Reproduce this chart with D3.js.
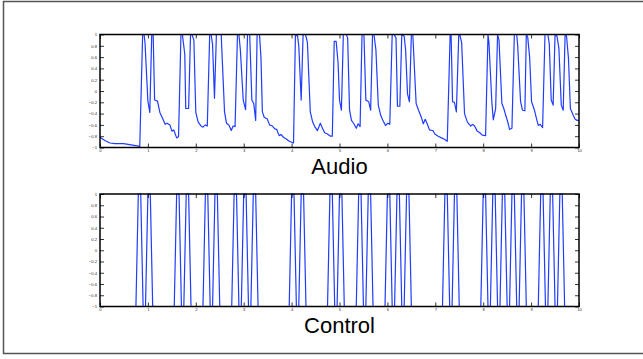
<!DOCTYPE html>
<html>
<head>
<meta charset="utf-8">
<script src="https://cdn.jsdelivr.net/npm/d3@7"></script>
<style>
  body { margin: 0; background: #fff; }
  svg { display: block; font-family: "Liberation Sans", Arial, sans-serif; }
</style>
</head>
<body>
<svg id="chart" width="643" height="359"></svg>
<script>
// audio trace, [time, value]
const audioPoints = [
  [0,-0.82],[0.10,-0.875],[0.21,-0.92],[0.31,-0.93],[0.49,-0.93],[0.62,-0.95],[0.83,-0.98],
  [0.89,1],[0.92,1],[0.94,0.85],[1.0,-0.18],[1.04,-0.38],
  [1.08,1],[1.11,1],[1.14,-0.16],[1.2,-0.18],[1.25,-0.38],[1.31,-0.49],[1.36,-0.59],[1.40,-0.57],
  [1.46,-0.60],[1.5,-0.71],[1.54,-0.69],[1.6,-0.83],[1.64,-0.81],
  [1.69,1],[1.72,1],[1.77,0.65],[1.79,-0.31],[1.85,-0.31],
  [1.89,1],[1.92,1],[1.96,0.9],[2.0,-0.38],[2.05,-0.55],[2.11,-0.62],[2.15,-0.64],[2.2,-0.6],[2.24,-0.62],
  [2.29,1],[2.32,1],[2.35,0.82],[2.39,-0.13],
  [2.43,1],[2.53,1],[2.6,-0.37],[2.64,-0.57],[2.69,-0.6],[2.74,-0.70],[2.78,-0.62],[2.82,-0.63],
  [2.87,1],[2.9,1],[2.93,0.73],[2.99,-0.16],[3.04,-0.33],
  [3.08,1],[3.125,1],[3.17,-0.16],[3.21,-0.22],[3.25,-0.52],
  [3.28,1],[3.33,1],[3.36,0.6],[3.39,-0.37],[3.43,-0.47],[3.49,-0.49],[3.54,-0.6],[3.60,-0.62],
  [3.65,-0.67],[3.69,-0.68],[3.74,-0.79],[3.78,-0.77],[3.83,-0.82],[3.89,-0.85],[3.95,-0.89],[4.04,-0.92],
  [4.08,1],[4.125,0.97],[4.15,0.8],[4.2,-0.16],
  [4.24,1],[4.29,1],[4.33,0.86],[4.39,-0.37],[4.44,-0.55],[4.49,-0.64],[4.54,-0.70],[4.6,-0.57],
  [4.64,-0.65],[4.69,-0.74],[4.75,-0.76],[4.81,-0.8],[4.85,-0.8],
  [4.89,0.88],[4.93,0.88],[4.97,0.5],[5.0,-0.16],[5.04,-0.34],
  [5.08,1],[5.14,1],[5.17,0.94],[5.21,-0.34],[5.25,-0.52],[5.30,-0.58],[5.35,-0.66],[5.39,-0.58],[5.43,-0.63],
  [5.47,1],[5.51,1],[5.55,-0.16],[5.61,-0.19],[5.65,-0.34],
  [5.69,1],[5.72,1],[5.76,0.73],[5.81,-0.25],[5.86,-0.43],[5.90,-0.51],[5.96,-0.61],[6.01,-0.57],[6.05,-0.59],
  [6.1,1],[6.14,1],[6.18,0.94],[6.21,-0.27],[6.26,-0.27],
  [6.3,1],[6.35,0.97],[6.38,0.73],[6.42,-0.05],[6.46,-0.19],
  [6.5,1],[6.53,1],[6.6,-0.22],[6.65,-0.34],[6.71,-0.47],[6.75,-0.58],[6.79,-0.5],[6.83,-0.58],
  [6.88,-0.69],[6.95,-0.70],[6.99,-0.76],[7.06,-0.8],[7.13,-0.83],[7.18,-0.85],[7.25,-0.89],
  [7.31,1],[7.33,1],[7.36,-0.19],[7.40,-0.2],[7.44,-0.37],
  [7.49,1],[7.51,1],[7.55,0.86],[7.61,-0.40],[7.67,-0.55],[7.74,-0.62],[7.78,-0.59],[7.82,-0.62],
  [7.875,-0.71],[7.93,-0.74],[7.98,-0.78],[8.05,-0.79],
  [8.1,1],[8.12,0.86],[8.18,-0.19],[8.21,-0.51],[8.26,-0.31],
  [8.3,1],[8.33,0.9],[8.39,-0.22],[8.43,-0.31],[8.47,-0.43],[8.51,-0.54],[8.55,-0.68],[8.60,-0.66],
  [8.65,1],[8.70,1],[8.72,0.8],[8.78,-0.19],[8.82,-0.34],[8.87,-0.35],
  [8.9,1],[8.93,0.95],[8.97,0.59],[9.01,-0.19],[9.07,-0.34],[9.11,-0.48],[9.15,-0.61],[9.19,-0.59],[9.24,-0.65],
  [9.29,1],[9.35,1],[9.38,0.83],[9.42,-0.16],[9.46,-0.25],
  [9.5,1],[9.54,0.97],[9.58,0.76],[9.63,-0.25],[9.67,-0.34],
  [9.71,1],[9.74,0.97],[9.78,0.58],[9.82,-0.31],[9.88,-0.43],[9.92,-0.5],[9.96,-0.52],[10,-0.52]
];

// control signal: times where each pulse reaches +1 (one sample high, 0.05 s steps)
const controlPulseStarts = [
  0.8, 1.0, 1.6, 1.8, 2.2, 2.4, 2.8, 3.0, 3.2, 4.0, 4.2, 4.8, 5.0, 5.4,
  5.6, 6.0, 6.2, 6.4, 7.2, 7.4, 8.0, 8.2, 8.4, 8.6, 8.8, 9.2, 9.4, 9.6
];
const controlStep = 0.05;

const xTicks = [0, 1, 2, 3, 4, 5, 6, 7, 8, 9, 10];
const yTicks = [-1, -0.8, -0.6, -0.4, -0.2, 0, 0.2, 0.4, 0.6, 0.8, 1];
const titles = ["Audio", "Control"];

// build control line from pulse starts
const controlPoints = [[0, -1]];
controlPulseStarts.forEach(s => {
  controlPoints.push([s - controlStep, -1], [s, 1], [s + controlStep, 1], [s + 2 * controlStep, -1]);
});
controlPoints.push([10, -1]);

const svg = d3.select("#chart");
const blue = "#1f3cff";

// outer figure border (right side runs off the picture)
svg.append("rect")
  .attr("x", 3.5).attr("y", 1.5)
  .attr("width", 642).attr("height", 352)
  .attr("fill", "none").attr("stroke", "#555").attr("stroke-width", 1.5);

const x = d3.scaleLinear().domain([0, 10]).range([100, 579]);

function drawPanel(points, top, bottom, title) {
  const y = d3.scaleLinear().domain([-1, 1]).range([bottom, top]);
  const g = svg.append("g");

  g.append("path")
    .datum(points)
    .attr("fill", "none")
    .attr("stroke", blue)
    .attr("stroke-width", 1.2)
    .attr("stroke-linejoin", "round")
    .attr("d", d3.line().x(d => x(d[0])).y(d => y(d[1])));

  const fmt = d => d3.format("")(+d.toFixed(1));

  g.append("g").attr("transform", `translate(${x(0)},0)`)
    .call(d3.axisLeft(y).tickValues(yTicks).tickSize(-4).tickSizeOuter(0).tickPadding(3).tickFormat(fmt));
  g.append("g").attr("transform", `translate(${x(10)},0)`)
    .call(d3.axisRight(y).tickValues(yTicks).tickSize(-4).tickSizeOuter(0).tickFormat(""));
  g.append("g").attr("transform", `translate(0,${bottom})`)
    .call(d3.axisBottom(x).tickValues(xTicks).tickSize(-4).tickSizeOuter(0).tickPadding(1.5).tickFormat(d3.format("d")));
  g.append("g").attr("transform", `translate(0,${top})`)
    .call(d3.axisTop(x).tickValues(xTicks).tickSize(-4).tickSizeOuter(0).tickFormat(""));

  g.selectAll(".domain").remove();
  g.selectAll(".tick line").attr("stroke", "#000").attr("stroke-width", 0.8);
  g.selectAll(".tick text").attr("font-size", 4.2).attr("fill", "#333");

  g.append("rect")
    .attr("x", x(0)).attr("y", top)
    .attr("width", x(10) - x(0)).attr("height", bottom - top)
    .attr("fill", "none").attr("stroke", "#000").attr("stroke-width", 1.5);

  g.append("text")
    .attr("x", (x(0) + x(10)) / 2)
    .attr("y", bottom + 26.5)
    .attr("text-anchor", "middle")
    .attr("font-size", 22)
    .attr("fill", "#000")
    .text(title);
}

drawPanel(audioPoints, 34.5, 147.5, titles[0]);
drawPanel(controlPoints, 194, 306.5, titles[1]);
</script>
</body>
</html>
